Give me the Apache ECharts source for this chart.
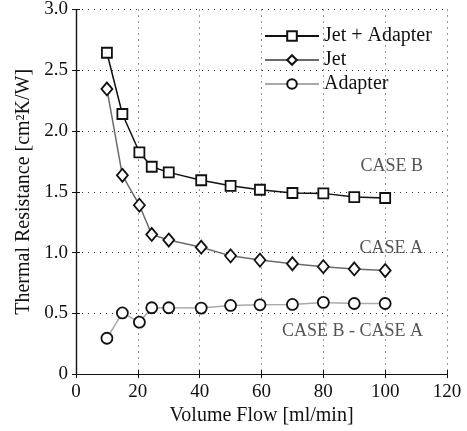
<!DOCTYPE html>
<html><head><meta charset="utf-8">
<script src="https://cdn.jsdelivr.net/npm/echarts@6/dist/echarts.min.js"></script>
<style>html,body{margin:0;padding:0;background:#fff}#c{width:467px;height:431px}</style>
</head><body><div id="c"></div>
<script>
const flow = [10, 15, 20.5, 24.5, 30, 40.5, 50, 59.5, 70, 80, 90, 100];
const jetAdapter = [2.644, 2.14, 1.825, 1.706, 1.66, 1.595, 1.549, 1.517, 1.49, 1.487, 1.457, 1.449];
const jet = [2.346, 1.636, 1.39, 1.149, 1.103, 1.044, 0.973, 0.938, 0.908, 0.884, 0.865, 0.852];
const adapter = [0.295, 0.503, 0.427, 0.546, 0.546, 0.543, 0.565, 0.57, 0.573, 0.59, 0.581, 0.581];
const seriesNames = ['Jet + Adapter', 'Jet', 'Adapter'];
const annotations = ['CASE B', 'CASE A', 'CASE B - CASE A'];
const xTitle = 'Volume Flow [ml/min]';
const yTitle = 'Thermal Resistance [cm\u00B2K/W]';

const font = 'Liberation Serif, Times New Roman, serif';
const chart = echarts.init(document.getElementById('c'));
const pair = a => flow.map((x, i) => [x, a[i]]);
const sizes = {rect: 10, diamond: [11, 13], circle: 11};
const mk = (name, data, color, symbol) => ({
  name, type: 'line', data: pair(data), symbol, symbolSize: sizes[symbol],
  lineStyle: {color, width: 1.5}, itemStyle: {color: '#fff', borderColor: '#111', borderWidth: 1.8},
  emphasis: {disabled: true}, z: 3
});
const gridLine = {show: true, lineStyle: {color: '#333', type: [1, 5], width: 1}};
chart.setOption({
  animation: false,
  grid: {left: 76, right: 20, top: 6, bottom: 55},
  legend: {
    orient: 'vertical', left: 259, top: 21, itemGap: 4, itemWidth: 54, itemHeight: 12,
    textStyle: {fontFamily: font, fontSize: 20, color: '#111'},
    data: seriesNames
  },
  xAxis: [{
    type: 'value', min: 0, max: 120, interval: 20,
    name: xTitle, nameLocation: 'middle', nameGap: 29,
    nameTextStyle: {fontFamily: font, fontSize: 20, color: '#111'},
    axisLine: {lineStyle: {color: '#111', width: 1.2}},
    axisTick: {inside: true, length: 4, lineStyle: {color: '#111'}},
    axisLabel: {fontFamily: font, fontSize: 19, color: '#111', margin: 8},
    splitLine: gridLine
  }, {
    type: 'value', position: 'top', min: 0, max: 120, interval: 20,
    axisLine: {show: true, lineStyle: {color: '#111', width: 1.2}},
    axisTick: {inside: true, length: 4, lineStyle: {color: '#111'}},
    axisLabel: {show: false}, splitLine: {show: false}
  }],
  yAxis: [{
    type: 'value', min: 0, max: 3, interval: 0.5,
    name: yTitle, nameLocation: 'middle', nameGap: 38,
    nameTextStyle: {fontFamily: font, fontSize: 20, color: '#111'},
    axisLine: {show: true, lineStyle: {color: '#111', width: 1.2}},
    axisTick: {inside: true, length: 4, lineStyle: {color: '#111'}},
    axisLabel: {fontFamily: font, fontSize: 19, color: '#111', margin: 8,
      formatter: v => v === 0 ? '0' : v.toFixed(1)},
    splitLine: gridLine
  }, {
    type: 'value', position: 'right', min: 0, max: 3, interval: 0.5,
    axisLine: {show: true, lineStyle: {color: '#111', width: 1.2}},
    axisTick: {inside: true, length: 4, lineStyle: {color: '#111'}},
    axisLabel: {show: false}, splitLine: {show: false}
  }],
  series: [
    mk(seriesNames[0], jetAdapter, '#111', 'rect'),
    mk(seriesNames[1], jet, '#6a6a6a', 'diamond'),
    mk(seriesNames[2], adapter, '#aaaaaa', 'circle')
  ],
  graphic: [
    {type: 'text', right: 44, top: 157, style: {text: annotations[0], font: '18px ' + font, fill: '#555'}},
    {type: 'text', right: 44, top: 239, style: {text: annotations[1], font: '18px ' + font, fill: '#555'}},
    {type: 'text', right: 44, top: 322, style: {text: annotations[2], font: '18px ' + font, fill: '#555'}}
  ]
});
</script></body></html>
